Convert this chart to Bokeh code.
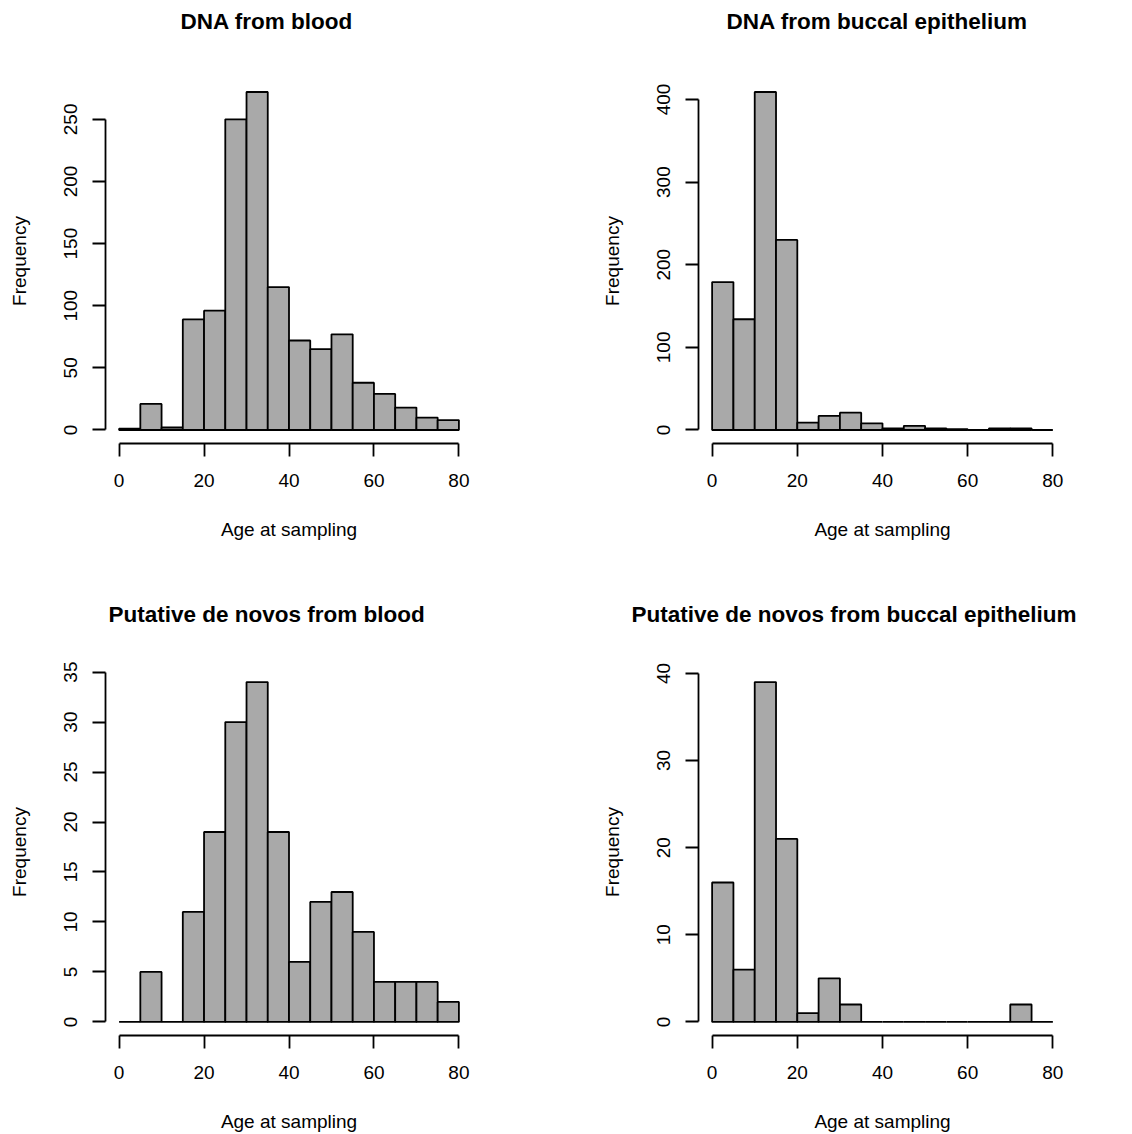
from bokeh.plotting import figure
from bokeh.layouts import column, row
from bokeh.models import ColumnDataSource, FixedTicker, Range1d, Title
from bokeh.embed import file_html
from bokeh.resources import INLINE

# ---------------- data ----------------
bin_edges = [0, 5, 10, 15, 20, 25, 30, 35, 40, 45, 50, 55, 60, 65, 70, 75, 80]

blood_counts = [1, 21, 2, 89, 96, 250, 272, 115, 72, 65, 77, 38, 29, 18, 10, 8]
buccal_counts = [179, 134, 409, 230, 9, 17, 21, 8, 2, 5, 2, 1, 0, 2, 2, 0]
denovo_blood_counts = [0, 5, 0, 11, 19, 30, 34, 19, 6, 12, 13, 9, 4, 4, 4, 2]
denovo_buccal_counts = [16, 6, 39, 21, 1, 5, 2, 0, 0, 0, 0, 0, 0, 0, 2, 0]

x_ticks = [0, 20, 40, 60, 80]
blood_y_ticks = [0, 50, 100, 150, 200, 250]
buccal_y_ticks = [0, 100, 200, 300, 400]
denovo_blood_y_ticks = [0, 5, 10, 15, 20, 25, 30, 35]
denovo_buccal_y_ticks = [0, 10, 20, 30, 40]

titles = ["DNA from blood", "DNA from buccal epithelium",
          "Putative de novos from blood", "Putative de novos from buccal epithelium"]
x_label = "Age at sampling"
y_label = "Frequency"

FONT = "Liberation Sans"
TICK_SIZE = "19px"
TITLE_SIZE = "22.5px"
BAR_FILL = "#A9A9A9"
LW = 1.8


def hist_panel(counts, yticks, title, fw, fh, bl, br, bt, bb, title_offset, spacer):
    xmin, xmax = bin_edges[0], bin_edges[-1]
    ymax = max(counts)
    xpad = 0.04 * (xmax - xmin)
    ypad = 0.04 * ymax
    p = figure(frame_width=fw, frame_height=fh,
               min_border_left=bl, min_border_right=br,
               min_border_top=bt, min_border_bottom=bb,
               x_range=Range1d(xmin - xpad, xmax + xpad),
               y_range=Range1d(-ypad, ymax + ypad),
               output_backend="svg", toolbar_location=None,
               background_fill_color="white", border_fill_color="white")
    p.outline_line_color = None
    p.grid.visible = False

    src = ColumnDataSource(dict(left=bin_edges[:-1], right=bin_edges[1:],
                                top=counts, bottom=[0] * len(counts)))
    p.quad(left="left", right="right", top="top", bottom="bottom", source=src,
           fill_color=BAR_FILL, line_color="black", line_width=LW)

    for ax, ticks in ((p.xaxis[0], x_ticks), (p.yaxis[0], yticks)):
        ax.ticker = FixedTicker(ticks=ticks)
        ax.bounds = (ticks[0], ticks[-1])
        ax.axis_line_color = "black"
        ax.axis_line_width = LW
        ax.major_tick_line_color = "black"
        ax.major_tick_line_width = LW
        ax.major_tick_in = 0
        ax.major_tick_out = 13
        ax.minor_tick_line_color = None
        ax.major_label_text_font = FONT
        ax.major_label_text_font_size = TICK_SIZE
        ax.major_label_text_color = "black"
        ax.axis_label_text_font = FONT
        ax.axis_label_text_font_size = TICK_SIZE
        ax.axis_label_text_font_style = "normal"
        ax.axis_label_text_color = "black"

    p.xaxis.major_label_standoff = 17
    p.xaxis.axis_label_standoff = 29
    p.yaxis.major_label_standoff = 15
    p.yaxis.axis_label_standoff = 32

    p.xaxis.axis_label = x_label
    p.yaxis.axis_label = y_label
    p.yaxis.major_label_orientation = "vertical"

    # blank spacer between frame and title (keeps the title high above the frame)
    p.add_layout(Title(text=" ", text_font_size="1px", standoff=spacer,
                       text_color="white"), "above")
    p.add_layout(Title(text=title, align="left", offset=title_offset,
                       vertical_align="top", standoff=0,
                       text_font=FONT, text_font_size=TITLE_SIZE,
                       text_font_style="bold", text_color="black"), "above")
    return p


p1 = hist_panel(blood_counts, blood_y_ticks, titles[0],
                367, 365, 105, 116, 78, 125, 75, 40)
p2 = hist_panel(buccal_counts, buccal_y_ticks, titles[1],
                368, 365, 110, 58, 78, 125, 28, 40)
p3 = hist_panel(denovo_blood_counts, denovo_blood_y_ticks, titles[2],
                367, 367, 105, 116, 100, 93, 3, 37)
p4 = hist_panel(denovo_buccal_counts, denovo_buccal_y_ticks, titles[3],
                368, 367, 110, 58, 100, 93, -67, 37)

layout = column(row(p1, p2), row(p3, p4))
open("out.html", "w").write(file_html(layout, INLINE))
